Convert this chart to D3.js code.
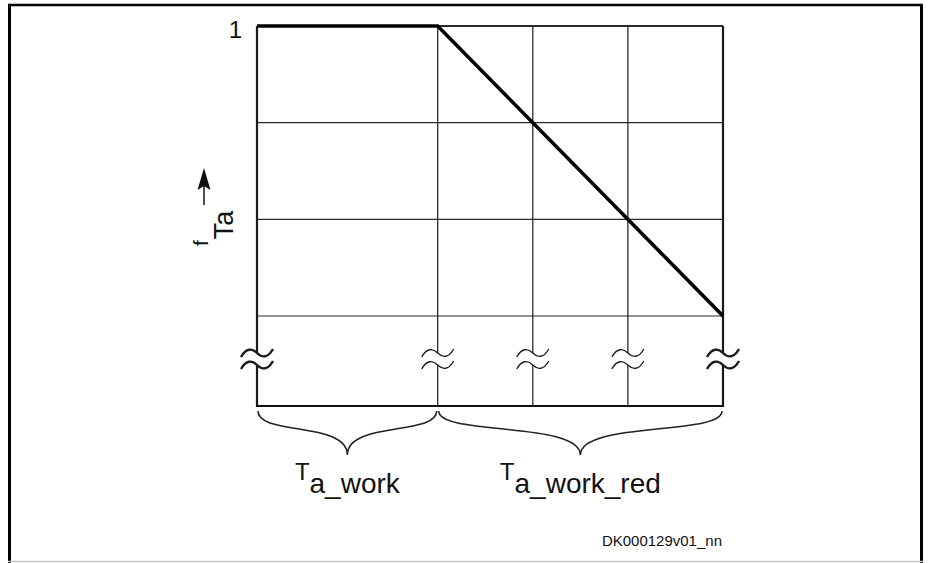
<!DOCTYPE html>
<html>
<head>
<meta charset="utf-8">
<script src="https://cdn.jsdelivr.net/npm/d3@7"></script>
<style>
  html, body { margin: 0; padding: 0; background: #fff; }
  svg { display: block; font-family: "Liberation Sans", Arial, sans-serif; }
</style>
</head>
<body>
<svg id="chart" width="931" height="563"></svg>
<script>
// ---- data ----
const xGrid = [0, 1.9, 2.9, 3.9, 4.9];          // vertical grid lines (time axis, arbitrary units)
const yGrid = [1, 0.75, 0.5, 0.25];              // horizontal grid lines (f_Ta)
const yTickValues = [1];
const yTickLabels = ["1"];
const curveX = [0, 1.9, 4.9];                    // f_Ta curve
const curveY = [1, 1, 0.25];
const braceFrom = [0, 1.9];
const braceTo = [1.9, 4.9];
const braceMain = ["T", "T"];
const braceSub = ["a_work", "a_work_red"];
const yLabelMain = "f";
const yLabelSub = "Ta";
const figureCode = "DK000129v01_nn";

// ---- layout ----
const W = 931, H = 563;
const svg = d3.select("#chart");
const x = d3.scaleLinear().domain([0, 4.9]).range([257, 723]);
const y = d3.scaleLinear().domain([0.25, 1]).range([316, 26]);
const yBase = y(0.25) + 90;       // broken-axis baseline
const breakY1 = y(0.25) + 37, breakY2 = y(0.25) + 49;

// outer frame
svg.append("line").attr("x1", 8).attr("x2", 923).attr("y1", 5).attr("y2", 5)
  .attr("stroke", "#000").attr("stroke-width", 2.5);
svg.append("line").attr("x1", 9.5).attr("x2", 9.5).attr("y1", 4).attr("y2", H)
  .attr("stroke", "#000").attr("stroke-width", 3);
svg.append("line").attr("x1", 921.5).attr("x2", 921.5).attr("y1", 4).attr("y2", H)
  .attr("stroke", "#000").attr("stroke-width", 3);
svg.append("line").attr("x1", 8).attr("x2", 923).attr("y1", 561.5).attr("y2", 561.5)
  .attr("stroke", "#c8c8c8").attr("stroke-width", 1.5);

// horizontal grid
svg.append("g").selectAll("line").data(yGrid).join("line")
  .attr("x1", x(0)).attr("x2", x(4.9))
  .attr("y1", d => y(d)).attr("y2", d => y(d))
  .attr("stroke", "#2a2a2a").attr("stroke-width", d => d === 1 ? 2 : 1.2);

// vertical grid with break gap
const vg = svg.append("g");
xGrid.forEach((d, i) => {
  const outer = (i === 0 || i === xGrid.length - 1);
  const sw = outer ? 2.2 : 1.2;
  vg.append("line").attr("x1", x(d)).attr("x2", x(d)).attr("y1", y(1)).attr("y2", breakY1)
    .attr("stroke", "#1a1a1a").attr("stroke-width", sw);
  vg.append("line").attr("x1", x(d)).attr("x2", x(d)).attr("y1", breakY2).attr("y2", yBase)
    .attr("stroke", "#1a1a1a").attr("stroke-width", sw);
  [breakY1, breakY2].forEach(cy => {
    const cx = x(d);
    vg.append("path")
      .attr("d", `M${cx - 16},${cy + 4} C${cx - 11},${cy - 5} ${cx - 5},${cy - 5} ${cx},${cy} C${cx + 5},${cy + 5} ${cx + 11},${cy + 5} ${cx + 16},${cy - 4}`)
      .attr("fill", "none").attr("stroke", "#1a1a1a").attr("stroke-width", outer ? 2.4 : 1.3);
  });
});

// baseline
svg.append("line").attr("x1", x(0) - 1).attr("x2", x(4.9) + 1).attr("y1", yBase).attr("y2", yBase)
  .attr("stroke", "#111").attr("stroke-width", 2.2);

// curve
const line = d3.line().x(d => x(d[0])).y(d => y(d[1]));
svg.append("path").datum(d3.zip(curveX, curveY)).attr("d", line)
  .attr("fill", "none").attr("stroke", "#000").attr("stroke-width", 3.6)
  .attr("stroke-linejoin", "miter").attr("stroke-linecap", "butt");

// y tick label
svg.append("g").selectAll("text").data(yTickValues).join("text")
  .attr("x", 242).attr("y", d => y(d) + 12)
  .attr("text-anchor", "end").attr("font-size", 24).attr("fill", "#111")
  .text((d, i) => yTickLabels[i]);

// y axis label (rotated) with arrow
const yl = svg.append("text").attr("transform", "translate(208,246) rotate(-90)")
  .attr("fill", "#111");
yl.append("tspan").attr("font-size", 21).text(yLabelMain);
yl.append("tspan").attr("font-size", 27).attr("dx", 1).attr("dy", 25).text(yLabelSub);
svg.append("line").attr("x1", 204).attr("x2", 204).attr("y1", 205).attr("y2", 184)
  .attr("stroke", "#222").attr("stroke-width", 1.6);
svg.append("path").attr("d", "M204,168 L210.5,190 L204,186 L197.5,190 Z").attr("fill", "#111");

// braces with labels
braceFrom.forEach((f, i) => {
  const x0 = x(f) + 1, x1 = x(braceTo[i]) - 1, xm = (x0 + x1) / 2;
  const y0 = yBase + 5, depth = 44;
  const d = `M${x0},${y0} C${x0},${y0 + 25} ${xm},${y0 + 10} ${xm},${y0 + depth}` +
            ` C${xm},${y0 + 10} ${x1},${y0 + 25} ${x1},${y0}`;
  svg.append("path").attr("d", d).attr("fill", "none")
    .attr("stroke", "#222").attr("stroke-width", 1.6);
  const t = svg.append("text").attr("x", xm).attr("y", 480)
    .attr("text-anchor", "middle").attr("fill", "#111");
  t.append("tspan").attr("font-size", 24).text(braceMain[i]);
  t.append("tspan").attr("font-size", 28).attr("dy", 12.5).text(braceSub[i]);
});

// figure code
svg.append("text").attr("x", 722).attr("y", 546).attr("text-anchor", "end")
  .attr("font-size", 15).attr("fill", "#111").text(figureCode);
</script>
</body>
</html>
